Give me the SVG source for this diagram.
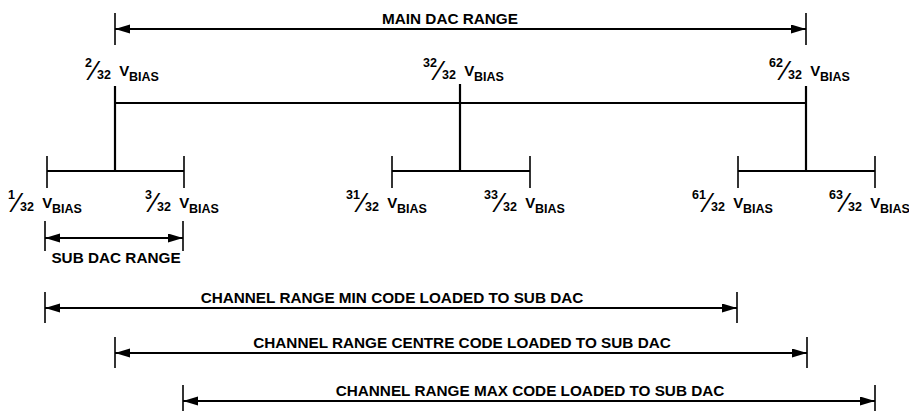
<svg xmlns="http://www.w3.org/2000/svg" width="909" height="411" viewBox="0 0 909 411">
<style>
text{font-family:"Liberation Sans",Arial,Helvetica,sans-serif;font-weight:bold;fill:#000}
.t{font-size:15.3px}
.sm{font-size:12.5px}
.v{font-size:15px}
.sl{font-size:28px;font-weight:normal}
.bar{stroke:#000;stroke-width:2.2;fill:none}
.tick{stroke:#000;stroke-width:1.6;fill:none}
.dim{stroke:#000;stroke-width:2;fill:none;marker-start:url(#ah);marker-end:url(#ah)}
</style>
<defs>
<marker id="ah" markerUnits="userSpaceOnUse" markerWidth="16" markerHeight="10" refX="15" refY="4.5" orient="auto-start-reverse">
<path d="M0,0 L15,4.5 L0,9 z" fill="#000"/>
</marker>
</defs>
<rect width="909" height="411" fill="#fff"/>

<g id="main-dac-range">
<line class="tick" x1="115" y1="13" x2="115" y2="45"/>
<line class="tick" x1="806" y1="13" x2="806" y2="45"/>
<line class="dim" x1="115" y1="29" x2="806" y2="29"/>
<text class="t" x="450" y="24" text-anchor="middle">MAIN DAC RANGE</text>
</g>

<g id="connectors">
<line class="bar" x1="115" y1="103" x2="806" y2="103"/>
<line class="bar" x1="115" y1="86" x2="115" y2="171"/>
<line class="bar" x1="460" y1="84" x2="460" y2="171"/>
<line class="bar" x1="806" y1="86" x2="806" y2="171"/>
</g>

<g id="sub-1">
<line class="bar" x1="47" y1="171" x2="184" y2="171"/>
<line class="tick" x1="47" y1="156" x2="47" y2="188"/>
<line class="tick" x1="184" y1="156" x2="184" y2="188"/>
</g>
<g id="sub-32">
<line class="bar" x1="392" y1="171" x2="530" y2="171"/>
<line class="tick" x1="392" y1="156" x2="392" y2="188"/>
<line class="tick" x1="530" y1="156" x2="530" y2="188"/>
</g>
<g id="sub-62">
<line class="bar" x1="738" y1="171" x2="875" y2="171"/>
<line class="tick" x1="738" y1="156" x2="738" y2="188"/>
<line class="tick" x1="875" y1="156" x2="875" y2="188"/>
</g>

<g id="labels-top">
<text id="lbl-2"><tspan class="sm" x="85" y="67">2</tspan><tspan class="sl" x="92" y="80">⁄</tspan><tspan class="sm" x="97" y="79">32</tspan><tspan class="v" x="115" y="76"> V</tspan><tspan class="sm" x="129" y="81">BIAS</tspan></text>
<text id="lbl-32"><tspan class="sm" x="423" y="67">32</tspan><tspan class="sl" x="437" y="80">⁄</tspan><tspan class="sm" x="442" y="79">32</tspan><tspan class="v" x="460" y="76"> V</tspan><tspan class="sm" x="474" y="81">BIAS</tspan></text>
<text id="lbl-62"><tspan class="sm" x="769" y="67">62</tspan><tspan class="sl" x="783" y="80">⁄</tspan><tspan class="sm" x="788" y="79">32</tspan><tspan class="v" x="806" y="76"> V</tspan><tspan class="sm" x="820" y="81">BIAS</tspan></text>
</g>

<g id="labels-bottom">
<text id="lbl-1"><tspan class="sm" x="8" y="199">1</tspan><tspan class="sl" x="15" y="212">⁄</tspan><tspan class="sm" x="20" y="211">32</tspan><tspan class="v" x="38" y="208"> V</tspan><tspan class="sm" x="52" y="213">BIAS</tspan></text>
<text id="lbl-3"><tspan class="sm" x="145" y="199">3</tspan><tspan class="sl" x="152" y="212">⁄</tspan><tspan class="sm" x="157" y="211">32</tspan><tspan class="v" x="175" y="208"> V</tspan><tspan class="sm" x="189" y="213">BIAS</tspan></text>
<text id="lbl-31"><tspan class="sm" x="346" y="199">31</tspan><tspan class="sl" x="360" y="212">⁄</tspan><tspan class="sm" x="365" y="211">32</tspan><tspan class="v" x="383" y="208"> V</tspan><tspan class="sm" x="397" y="213">BIAS</tspan></text>
<text id="lbl-33"><tspan class="sm" x="484" y="199">33</tspan><tspan class="sl" x="498" y="212">⁄</tspan><tspan class="sm" x="503" y="211">32</tspan><tspan class="v" x="521" y="208"> V</tspan><tspan class="sm" x="535" y="213">BIAS</tspan></text>
<text id="lbl-61"><tspan class="sm" x="692" y="199">61</tspan><tspan class="sl" x="706" y="212">⁄</tspan><tspan class="sm" x="711" y="211">32</tspan><tspan class="v" x="729" y="208"> V</tspan><tspan class="sm" x="743" y="213">BIAS</tspan></text>
<text id="lbl-63"><tspan class="sm" x="829" y="199">63</tspan><tspan class="sl" x="843" y="212">⁄</tspan><tspan class="sm" x="848" y="211">32</tspan><tspan class="v" x="866" y="208"> V</tspan><tspan class="sm" x="880" y="213">BIAS</tspan></text>
</g>

<g id="sub-dac-range">
<line class="tick" x1="45" y1="221" x2="45" y2="251"/>
<line class="tick" x1="183" y1="221" x2="183" y2="251"/>
<line class="dim" x1="45" y1="238" x2="183" y2="238"/>
<text class="t" x="116" y="263" text-anchor="middle">SUB DAC RANGE</text>
</g>

<g id="channel-min">
<line class="tick" x1="45" y1="292" x2="45" y2="323"/>
<line class="tick" x1="737" y1="292" x2="737" y2="323"/>
<line class="dim" x1="45" y1="308" x2="737" y2="308"/>
<text class="t" x="392" y="303" text-anchor="middle">CHANNEL RANGE MIN CODE LOADED TO SUB DAC</text>
</g>
<g id="channel-centre">
<line class="tick" x1="115" y1="337" x2="115" y2="368"/>
<line class="tick" x1="807" y1="337" x2="807" y2="368"/>
<line class="dim" x1="115" y1="353" x2="807" y2="353"/>
<text class="t" x="462" y="348" text-anchor="middle">CHANNEL RANGE CENTRE CODE LOADED TO SUB DAC</text>
</g>
<g id="channel-max">
<line class="tick" x1="183" y1="385" x2="183" y2="411"/>
<line class="tick" x1="875" y1="385" x2="875" y2="411"/>
<line class="dim" x1="183" y1="401" x2="875" y2="401"/>
<text class="t" x="530" y="396" text-anchor="middle">CHANNEL RANGE MAX CODE LOADED TO SUB DAC</text>
</g>
</svg>
